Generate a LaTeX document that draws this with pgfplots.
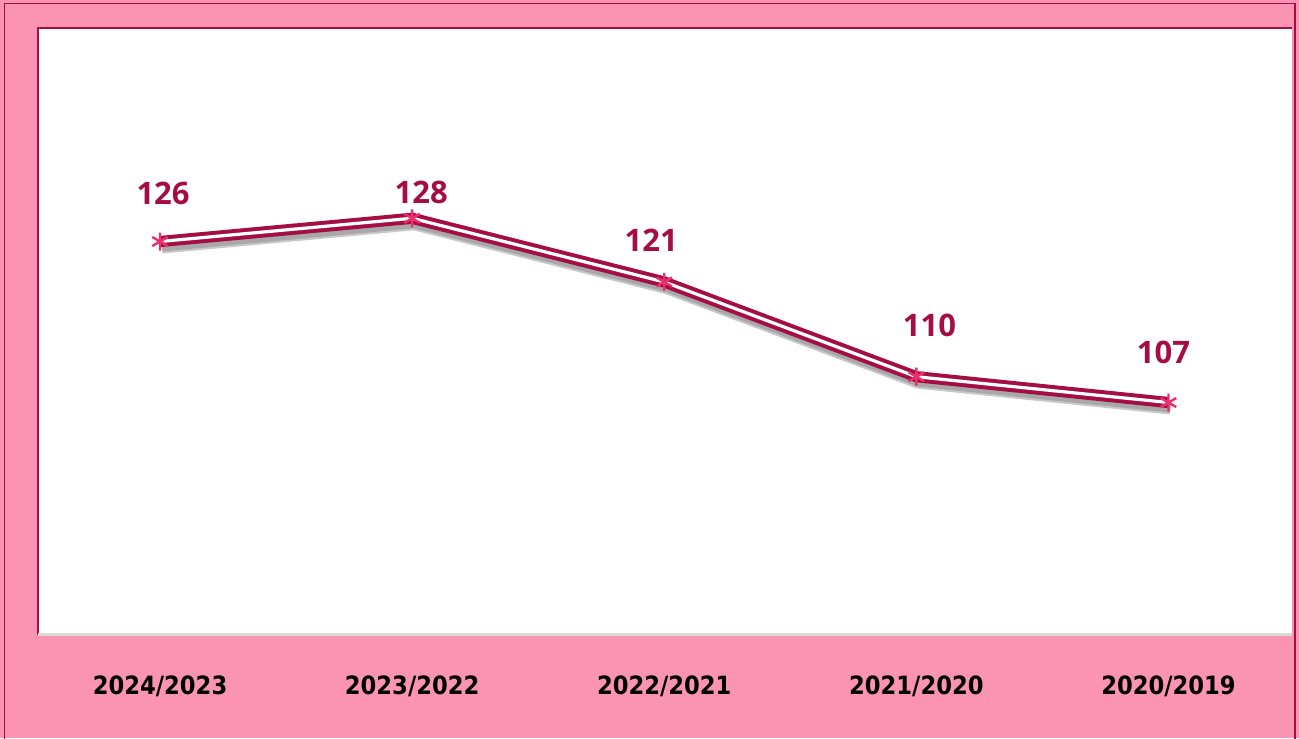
\documentclass[border=0pt]{standalone}
\usepackage{fontspec}
\setmainfont{Open Sans}
\newfontfamily\tickfont{DejaVu Sans Condensed}
\usepackage{pgfplots}
\usepackage{pgfplotstable}
\pgfplotsset{compat=1.18}
\definecolor{bgpink}{HTML}{FA94B2}
\definecolor{crim}{HTML}{A50E45}
\definecolor{mpink}{HTML}{EE2F6E}
\pgfplotstableread{
x y lab
0 125.7 126
1 128.4 128
2 121.0 121
3 110.0 110
4 107.0 107
}\datatable
\pgfplotstableread{
lx ly lab
0.012 131.33 126
1.036 131.45 128
1.948 125.87 121
3.052 116.00 110
3.980 112.87 107
}\labtable
\begin{document}
\begin{tikzpicture}[x=1pt,y=1pt]
\useasboundingbox (0,0) rectangle (649.5,369);
\fill[bgpink] (0,0) rectangle (649.5,369);
\draw[crim, line width=0.8pt] (2.2,-5) rectangle (647.6,367.2);
\begin{axis}[at={(19pt,51.5pt)}, anchor=south west, scale only axis,
  width=627pt, height=303.5pt,
  xmin=-0.484, xmax=4.49, ymin=80, ymax=150.5,
  axis line style={draw=none},
  axis background/.style={fill=white},
  ytick=\empty, xtick={0,1,2,3,4},
  xticklabels={2024/2023,2023/2022,2022/2021,2021/2020,2020/2019},
  major tick length=0pt,
  xticklabel style={font=\tickfont\bfseries\fontsize{12.6}{14}\selectfont, yshift=-17pt},
  clip=false]
\draw[crim, line width=0.8pt] (rel axis cs:0,0) -- (rel axis cs:0,1) -- (rel axis cs:1,1);
\draw[black!15, line width=1.5pt] (rel axis cs:0,0) -- (rel axis cs:1,0);
\addplot[black!70, opacity=0.3, line width=6pt, line join=round, transform canvas={xshift=1pt,yshift=-3pt}] table[x=x,y=y] {\datatable};
\addplot[black!70, opacity=0.25, line width=4pt, line join=round, transform canvas={xshift=1pt,yshift=-3pt}] table[x=x,y=y] {\datatable};
\addplot[crim, line width=2pt, double=white, double distance=1.6pt, line join=round] table[x=x,y=y] {\datatable};
\addplot[only marks, mark=asterisk, mark size=4.5pt, mark options={draw=mpink, line width=1.2pt}]
  table[x=x,y=y] {\datatable};
\addplot[only marks, mark=none, draw=none,
  nodes near coords, point meta=explicit symbolic,
  every node near coord/.style={font=\bfseries\fontsize{15.5}{17}\selectfont, text=crim, anchor=center}]
  table[x=lx,y=ly,meta=lab] {\labtable};
\end{axis}
\end{tikzpicture}
\end{document}
